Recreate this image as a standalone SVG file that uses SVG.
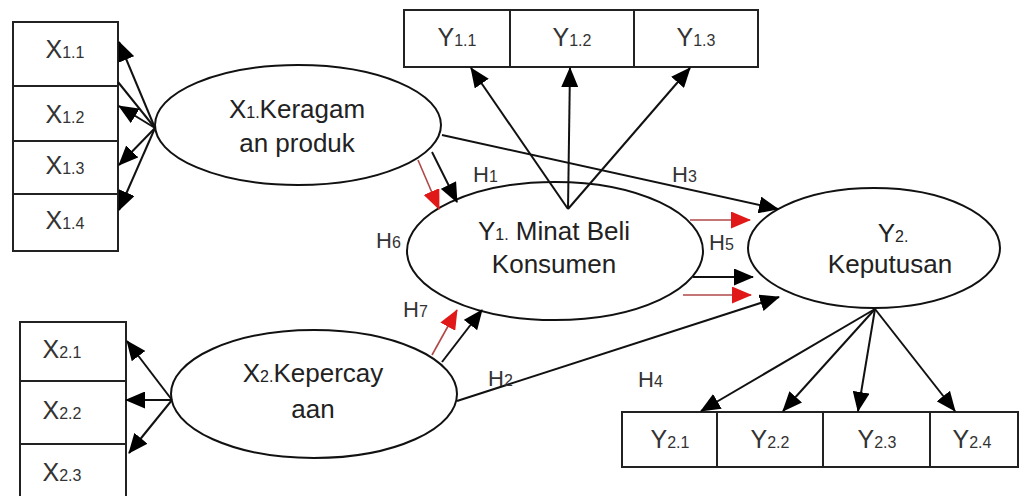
<svg xmlns="http://www.w3.org/2000/svg" width="1022" height="496" viewBox="0 0 1022 496">
  <style>
    .box { fill: #fff; stroke: #222; stroke-width: 2; }
    .ell { fill: #fff; stroke: #111; stroke-width: 2; }
    .lbl { font-family: "Liberation Sans", Arial, sans-serif; font-size: 25px; fill: #333; text-anchor: middle; }
    .big { font-family: "Liberation Sans", Arial, sans-serif; font-size: 26px; fill: #222; text-anchor: middle; }
    .hyp { font-family: "Liberation Sans", Arial, sans-serif; font-size: 22px; fill: #333; }
    .sub { font-size: 16px; }
    .ln { stroke: #111; stroke-width: 2; fill: none; marker-end: url(#ah); }
    .plain { stroke: #111; stroke-width: 2; fill: none; }
    .rln { stroke: #b04848; stroke-width: 1.6; fill: none; marker-end: url(#ahr); }
  </style>
  <defs>
    <marker id="ah" viewBox="0 0 20 17" refX="19" refY="8.5" markerWidth="20" markerHeight="17" markerUnits="userSpaceOnUse" orient="auto">
      <path d="M0,0 L20,8.5 L0,17 z" fill="#000"/>
    </marker>
    <marker id="ahr" viewBox="0 0 20 17" refX="19" refY="8.5" markerWidth="20" markerHeight="17" markerUnits="userSpaceOnUse" orient="auto">
      <path d="M0,0 L20,8.5 L0,17 z" fill="#e01818"/>
    </marker>
  </defs>

  <rect width="1022" height="496" fill="#fff"/>

  <!-- indicator boxes of X1 -->
  <g id="x1-indicators">
    <rect class="box" x="13" y="22" width="105" height="64"/>
    <rect class="box" x="13" y="86" width="105" height="55"/>
    <rect class="box" x="13" y="141" width="105" height="53"/>
    <rect class="box" x="13" y="194" width="105" height="57"/>
    <text class="lbl" x="65" y="58">X<tspan class="sub">1.1</tspan></text>
    <text class="lbl" x="65" y="123">X<tspan class="sub">1.2</tspan></text>
    <text class="lbl" x="65" y="174">X<tspan class="sub">1.3</tspan></text>
    <text class="lbl" x="65" y="229">X<tspan class="sub">1.4</tspan></text>
  </g>

  <!-- indicator boxes of X2 -->
  <g id="x2-indicators">
    <rect class="box" x="20" y="322" width="106" height="59"/>
    <rect class="box" x="20" y="381" width="106" height="63"/>
    <rect class="box" x="20" y="444" width="106" height="60"/>
    <text class="lbl" x="62" y="358">X<tspan class="sub">2.1</tspan></text>
    <text class="lbl" x="62" y="419">X<tspan class="sub">2.2</tspan></text>
    <text class="lbl" x="62" y="481">X<tspan class="sub">2.3</tspan></text>
  </g>

  <!-- indicator boxes of Y1 -->
  <g id="y1-indicators">
    <rect class="box" x="404" y="10" width="106" height="57"/>
    <rect class="box" x="510" y="10" width="124" height="57"/>
    <rect class="box" x="634" y="10" width="124" height="57"/>
    <text class="lbl" x="457" y="46">Y<tspan class="sub">1.1</tspan></text>
    <text class="lbl" x="572" y="46">Y<tspan class="sub">1.2</tspan></text>
    <text class="lbl" x="696" y="46">Y<tspan class="sub">1.3</tspan></text>
  </g>

  <!-- indicator boxes of Y2 -->
  <g id="y2-indicators">
    <rect class="box" x="622" y="412" width="95" height="55"/>
    <rect class="box" x="717" y="412" width="106" height="55"/>
    <rect class="box" x="823" y="412" width="107" height="55"/>
    <rect class="box" x="930" y="412" width="88" height="55"/>
    <text class="lbl" x="670" y="448">Y<tspan class="sub">2.1</tspan></text>
    <text class="lbl" x="770" y="448">Y<tspan class="sub">2.2</tspan></text>
    <text class="lbl" x="877" y="448">Y<tspan class="sub">2.3</tspan></text>
    <text class="lbl" x="972" y="448">Y<tspan class="sub">2.4</tspan></text>
  </g>

  <!-- latent variables -->
  <g id="x1">
    <ellipse class="ell" cx="298" cy="125" rx="143" ry="60"/>
    <text class="big" x="297" y="118">X<tspan class="sub">1.</tspan>Keragam</text>
    <text class="big" x="297" y="152">an produk</text>
  </g>

  <g id="x2">
    <ellipse class="ell" cx="314" cy="394" rx="143" ry="64"/>
    <text class="big" x="313" y="382">X<tspan class="sub">2.</tspan>Kepercay</text>
    <text class="big" x="313" y="418">aan</text>
  </g>

  <g id="y1">
    <ellipse class="ell" cx="555" cy="251" rx="148" ry="69"/>
    <text class="big" x="554" y="240">Y<tspan class="sub">1.</tspan> Minat Beli</text>
    <text class="big" x="554" y="273">Konsumen</text>
  </g>

  <g id="y2">
    <ellipse class="ell" cx="874" cy="248" rx="126" ry="60"/>
    <text class="big" x="893" y="242">Y<tspan class="sub">2.</tspan></text>
    <text class="big" x="890" y="273">Keputusan</text>
  </g>

  <!-- connectors -->
  <g id="connectors">
    <!-- X1 to its indicators -->
    <line class="ln" x1="155" y1="128" x2="119" y2="42"/>
    <line class="plain" x1="155" y1="128" x2="118" y2="82"/>
    <line class="ln" x1="155" y1="128" x2="119" y2="106"/>
    <line class="ln" x1="155" y1="128" x2="119" y2="165"/>
    <line class="ln" x1="155" y1="128" x2="119" y2="210"/>
    <!-- X2 to its indicators -->
    <line class="ln" x1="172" y1="400" x2="127" y2="341"/>
    <line class="ln" x1="172" y1="400" x2="126" y2="400"/>
    <line class="ln" x1="172" y1="400" x2="129" y2="453"/>
    <!-- Y1 to its indicators -->
    <line class="ln" x1="568" y1="209" x2="471" y2="68"/>
    <line class="ln" x1="568" y1="209" x2="570" y2="68"/>
    <line class="ln" x1="568" y1="209" x2="690" y2="68"/>
    <!-- Y2 to its indicators -->
    <line class="ln" x1="875" y1="309" x2="701" y2="411"/>
    <line class="ln" x1="875" y1="309" x2="783" y2="411"/>
    <line class="ln" x1="875" y1="309" x2="858" y2="411"/>
    <line class="ln" x1="875" y1="309" x2="955" y2="411"/>
    <!-- H1 / H6 -->
    <line class="ln" x1="432" y1="152" x2="457" y2="202"/>
    <line class="rln" x1="418" y1="160" x2="439" y2="209"/>
    <!-- H3 -->
    <line class="ln" x1="442" y1="135" x2="778" y2="209"/>
    <!-- H7 -->
    <line class="rln" x1="432" y1="355" x2="457" y2="310"/>
    <line class="ln" x1="442" y1="362" x2="482" y2="310"/>
    <!-- H2 -->
    <line class="ln" x1="457" y1="401" x2="779" y2="297"/>
    <!-- H5 -->
    <line class="rln" x1="690" y1="220" x2="750" y2="220"/>
    <line class="ln" x1="693" y1="277" x2="753" y2="277"/>
    <line class="rln" x1="683" y1="295" x2="751" y2="295"/>
  </g>

  <!-- hypothesis labels -->
  <g id="hypotheses">
    <text class="hyp" x="473" y="182">H<tspan class="sub">1</tspan></text>
    <text class="hyp" x="488" y="386">H<tspan class="sub">2</tspan></text>
    <text class="hyp" x="672" y="182">H<tspan class="sub">3</tspan></text>
    <text class="hyp" x="638" y="387">H<tspan class="sub">4</tspan></text>
    <text class="hyp" x="709" y="250">H<tspan class="sub">5</tspan></text>
    <text class="hyp" x="376" y="248">H<tspan class="sub">6</tspan></text>
    <text class="hyp" x="403" y="317">H<tspan class="sub">7</tspan></text>
  </g>
</svg>
